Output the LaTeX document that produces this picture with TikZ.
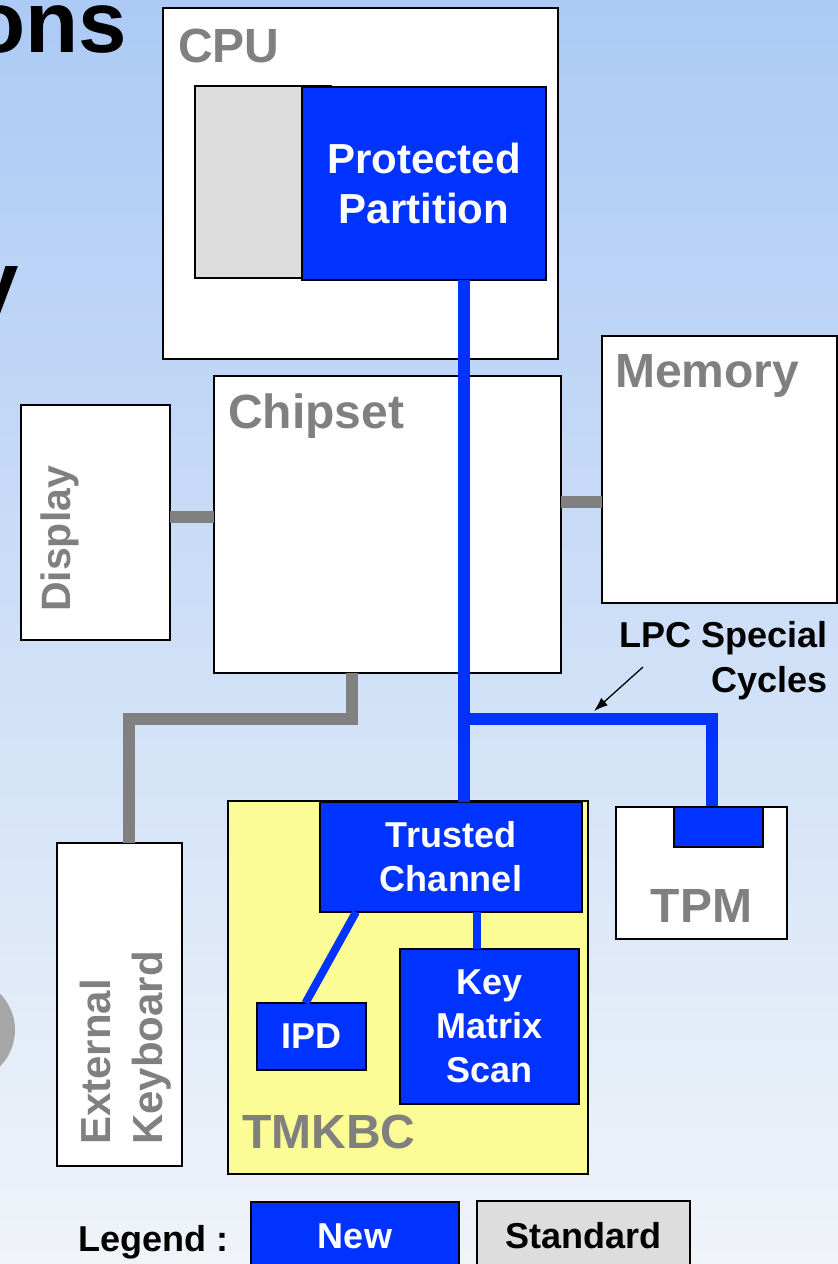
\documentclass[tikz,border=0pt]{standalone}
\usepackage{fontspec}
\setmainfont{Liberation Sans}
\usetikzlibrary{calc,arrows.meta}
\definecolor{newblue}{RGB}{0,51,255}
\definecolor{tmyellow}{RGB}{252,252,150}
\definecolor{labelgray}{RGB}{128,128,128}
\definecolor{stdgray}{RGB}{221,221,221}
\definecolor{bgtop}{RGB}{172,202,245}
\definecolor{bgmid}{RGB}{208,224,245}
\definecolor{bgbot}{RGB}{240,244,249}
\begin{document}
\begin{tikzpicture}[x=1pt,y=1pt,
  box/.style={draw=black, line width=1.3pt, fill=white, inner sep=0pt, outer sep=0pt, anchor=north west},
  bluebox/.style={box, fill=newblue},
  lbl/.style={text=labelgray, font=\bfseries\fontsize{48}{52}\selectfont, inner sep=0pt},
  wlbl/.style={text=white, font=\bfseries\fontsize{36}{44}\selectfont, align=center, inner sep=0pt},
  blk/.style={text=black, font=\bfseries\fontsize{36}{44}\selectfont, inner sep=0pt},
  bus/.style={draw=newblue, line width=12pt, line join=miter},
  gbus/.style={draw=labelgray, line width=12pt, line join=miter},
  link/.style={draw=newblue, line width=8pt},
]
\useasboundingbox (0,0) rectangle (838,-1264);
\clip (0,0) rectangle (838,-1264);
\shade[top color=bgtop, middle color=bgmid, bottom color=bgbot] (0,0) rectangle (838,-1264);

% cropped slide remnants
\node[anchor=base east, inner sep=0pt, font=\bfseries\fontsize{87}{90}\selectfont] (ttl) at (127,-52) {ons};
\node[anchor=base east, inner sep=0pt, font=\bfseries\fontsize{87}{90}\selectfont] (ttly) at (19,-312) {y};
\fill[gray!70] (-40,-1030) ellipse [x radius=55, y radius=53];

% named coordinates
\coordinate (busx) at (464,0);
\coordinate (lpcj) at (464,-719);
\coordinate (tpmtap) at (712,-807);
\coordinate (gx) at (352,0);
\coordinate (gy) at (0,-719);
\coordinate (kbx) at (128.5,0);
\coordinate (gd) at (0,-517);
\coordinate (gm) at (0,-502);
\coordinate (kx) at (477,0);
\coordinate (arrs) at (643,-667);
\coordinate (arre) at (594,-711);

% boxes
\node[box, minimum width=395pt, minimum height=351pt] (cpu) at (163,-8) {};
\node[box, fill=stdgray, minimum width=136pt, minimum height=192pt] (part) at (195,-86) {};
\node[bluebox, minimum width=244pt, minimum height=193pt] (pp) at (302,-87) {};
\node[box, minimum width=347pt, minimum height=297pt] (chip) at (214,-376) {};
\node[box, minimum width=235pt, minimum height=267pt] (mem) at (602,-336) {};
\node[box, minimum width=149pt, minimum height=235pt] (disp) at (21,-405) {};
\node[box, minimum width=125pt, minimum height=323pt] (extkb) at (57,-843) {};
\node[box, fill=tmyellow, minimum width=360pt, minimum height=373pt] (tmkbc) at (228,-801) {};
\node[box, minimum width=171pt, minimum height=132pt] (tpm) at (616,-807) {};

% connectors
\draw[bus] (lpcj) -| (tpmtap);
\draw[gbus] (chip.south -| gx) |- (kbx |- gy) -- (kbx |- extkb.north);
\draw[gbus] (disp.east |- gd) -- (chip.west |- gd);
\draw[gbus] (chip.east |- gm) -- (mem.west |- gm);
\draw[-{Latex[length=14pt,width=10pt]}, line width=1.3pt] (arrs) -- (arre);

% inner blue boxes
\node[bluebox, minimum width=262pt, minimum height=110pt] (tc) at (320,-802) {};
\node[bluebox, minimum width=179pt, minimum height=155pt] (kms) at (400,-949) {};
\node[bluebox, minimum width=109pt, minimum height=67pt] (ipd) at (257,-1003) {};
\node[bluebox, minimum width=89pt, minimum height=40pt] (tpmin) at (674,-807) {};
\draw[bus] (pp.south -| busx) -- (tc.north -| busx);
\draw[link] (tc.south -| kx) -- (kms.north -| kx);
\draw[link] ($(tc.south west)+(36,0)$) -- ($(ipd.north)+(-6,0)$);

% labels
\node[lbl, anchor=base west] (cpulbl) at (178,-62) {CPU};
\node[lbl, anchor=base west] (chiplbl) at (228,-428) {Chipset};
\node[lbl, anchor=base west] (memlbl) at (615,-387) {Memory};
\node[lbl, anchor=base west] (tmlbl) at (242,-1148) {TMKBC};
\node[lbl, anchor=base] (tpmlbl) at (701.5,-922) {TPM};
\node[lbl, font=\bfseries\fontsize{41}{46}\selectfont, rotate=90, anchor=base west] (displbl) at (70,-612) {Display};
\node[lbl, font=\bfseries\fontsize{42}{46}\selectfont, rotate=90, anchor=base west] (extlbl) at (110,-1145) {External};
\node[lbl, font=\bfseries\fontsize{42}{46}\selectfont, rotate=90, anchor=base west] (kbdlbl) at (162,-1145) {Keyboard};

\node[wlbl, font=\bfseries\fontsize{42}{50}\selectfont] (pplbl) at (pp.center) {Protected\\Partition};
\node[wlbl] (tclbl) at (tc.center) {Trusted\\Channel};
\node[wlbl] (kmslbl) at (kms.center) {Key\\Matrix\\Scan};
\node[wlbl] (ipdlbl) at (ipd.center) {IPD};

\node[blk, anchor=base east] (lpc1) at (828,-647) {LPC Special};
\node[blk, anchor=base east] (lpc2) at (828,-692) {Cycles};

% legend
\node[blk, anchor=base west] (leglbl) at (78,-1251) {Legend :};
\node[bluebox, minimum width=208pt, minimum height=80pt] (newl) at (251,-1202) {};
\node[box, fill=stdgray, minimum width=213pt, minimum height=80pt] (stdl) at (477,-1201) {};
\node[wlbl, anchor=base] (newlbl) at (355,-1248) {New};
\node[blk, anchor=base] (stdlbl) at (583.5,-1248) {Standard};
\end{tikzpicture}
\end{document}
